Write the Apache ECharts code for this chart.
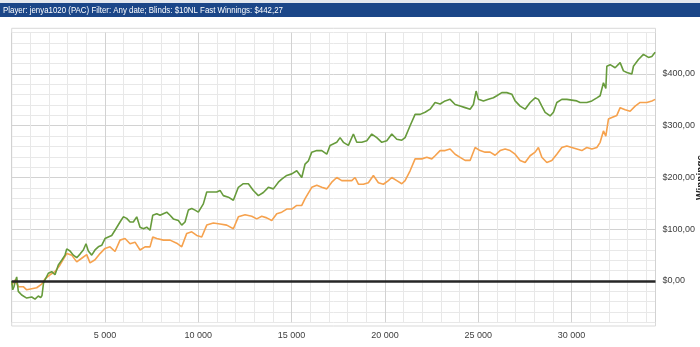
<!DOCTYPE html>
<html>
<head>
<meta charset="utf-8">
<script src="https://cdn.jsdelivr.net/npm/echarts@6/dist/echarts.min.js"></script>
<style>html,body{margin:0;padding:0;background:#fff}#c{width:700px;height:347px}</style>
</head>
<body>
<div id="c"></div>
<script>
const titleText = 'Player: jenya1020 (PAC) Filter: Any date; Blinds: $10NL Fast Winnings: $442,27';
const yAxisTitle = 'Winnings';

const greenHands = [0,54,123,177,268,354,536,804,1072,1249,1426,1554,1624,1704,1785,1962,2144,2321,2498,2680,2857,2948,3125,3302,3484,3661,3838,3982,4106,4288,4465,4642,4824,5001,5178,5360,5537,5805,5982,6164,6341,6518,6700,6877,7054,7236,7413,7558,7772,7949,8126,8308,8485,8662,8930,9112,9289,9466,9648,9825,10002,10093,10270,10452,10720,10988,11165,11342,11610,11878,12146,12414,12682,12950,13218,13486,13754,14022,14290,14472,14740,15008,15276,15544,15721,15898,16080,16348,16616,16884,17061,17420,17597,17774,18042,18310,18492,18760,19028,19296,19564,19832,20100,20368,20636,20904,21081,21349,21617,21885,22153,22421,22689,22957,23225,23493,23761,24029,24297,24565,24742,24887,25010,25278,25546,25814,25996,26264,26532,26800,26977,27245,27513,27781,28049,28226,28408,28585,28853,29030,29212,29480,29748,30284,30461,30820,31088,31356,31533,31710,31838,31892,32069,32337,32605,32782,32964,33232,33318,33586,33854,34122,34304,34481];
const greenWinnings = [0,-17,-11,-3,8,-20,-27,-33,-31,-35,-29,-32,-28,-4,2,15,18,12,31,40,50,62,58,50,45,52,60,72,58,50,60,66,69,82,85,88,98,114,124,121,114,114,124,104,101,104,98,127,130,127,130,133,127,120,117,108,114,137,140,137,133,130,149,172,172,172,175,165,162,156,181,188,188,175,165,171,181,178,191,197,204,207,213,200,226,232,249,252,252,245,262,268,277,268,262,284,268,268,271,284,277,268,271,284,274,272,277,300,322,322,326,332,345,342,348,351,341,338,335,332,341,367,351,348,351,354,358,364,364,361,348,338,332,345,354,351,338,326,319,326,345,351,351,348,345,345,348,354,358,383,372,415,418,412,422,406,403,400,415,428,438,432,434,442];

const orangeHands = [0,177,354,622,804,1072,1340,1608,1785,2053,2321,2589,2948,3216,3484,3752,4020,4197,4465,4733,5001,5269,5537,5805,6073,6341,6609,6877,7145,7413,7558,7772,8126,8485,8844,9112,9380,9648,9916,10184,10452,10806,11165,11524,11878,12146,12505,12864,13132,13400,13668,13936,14204,14472,14740,15008,15276,15544,15721,16080,16348,16616,16884,17152,17420,17688,17956,18224,18401,18578,18846,19114,19382,19650,19918,20186,20368,20636,20904,21081,21349,21617,21976,22244,22512,22689,22957,23225,23493,23761,24029,24297,24565,24833,25100,25369,25637,25905,26173,26441,26709,26977,27245,27513,27781,28049,28226,28408,28676,28944,29212,29480,29748,30016,30284,30552,30820,31088,31356,31533,31710,31838,31978,32160,32428,32605,32873,33141,33409,33677,34036,34304,34481];
const orangeWinnings = [-8,2,-11,-11,-17,-15,-13,-6,4,12,18,31,53,50,37,44,51,35,41,53,63,66,57,79,82,72,75,60,66,66,85,82,79,79,73,66,92,95,88,85,108,112,110,108,101,124,128,125,120,125,122,117,130,133,139,139,146,146,159,181,185,181,178,191,200,194,194,194,200,187,187,190,204,190,187,194,200,194,188,194,213,236,236,239,236,242,252,252,255,245,239,233,233,258,252,249,249,243,252,255,252,245,233,229,242,249,258,239,229,233,245,258,261,258,255,252,258,255,258,268,290,280,313,316,320,335,331,328,338,345,345,348,351];

const xTicks = {min: 0, max: 34500, step: 1000, labelEvery: 5000};
const yTicks = {min: -80, max: 480, step: 20, labelEvery: 100};

function pairs(xs, ys){ return xs.map((x,i)=>[x, ys[i]]); }
function fmtThousands(v){ return String(v).replace(/\B(?=(\d{3})+(?!\d))/g, ' '); }

const chart = echarts.init(document.getElementById('c'), null, {renderer:'canvas'});
const font = '"Liberation Sans", Arial, sans-serif';
const minor = '#e8e8e8', major = '#d2d2d2';

chart.setOption({
  animation: false,
  backgroundColor: '#fff',
  grid: {left: 11.7, right: 44.5, top: 32.6, bottom: 24.6, containLabel: false, outerBoundsMode: 'none'},
  graphic: [
    {type:'rect', shape:{x:0,y:0,width:700,height:3}, style:{fill:'#e3e7ee'}, silent:true},
    {type:'rect', shape:{x:0,y:3,width:700,height:14}, style:{fill:'#1b4688'}, silent:true},
    {type:'text', x:3, y:10, scaleX:0.83, style:{text:titleText, fill:'#ffffff', font:'9.5px ' + font, textVerticalAlign:'middle'}, silent:true},
    {type:'rect', shape:{x:11.7,y:28.3,width:643.8,height:297.7}, style:{fill:'none', stroke:'#d9d9d9', lineWidth:1}, silent:true, z:0}
  ],
  xAxis: {
    type: 'value', min: xTicks.min, max: xTicks.max, interval: xTicks.step,
    axisLine:{show:false}, axisTick:{show:false},
    axisLabel:{
      interval:0, margin:9, color:'#404040', fontSize:9, fontFamily:font,
      showMinLabel:true, showMaxLabel:true, hideOverlap:false,
      formatter: v => (v > 0 && v % xTicks.labelEvery === 0) ? fmtThousands(v) : ''
    },
    splitLine:{show:true, lineStyle:{color:[major, minor, minor, minor, minor], width:1}}
  },
  yAxis: {
    type: 'value', position:'right', min: yTicks.min, max: yTicks.max, interval: yTicks.step,
    axisLine:{show:false}, axisTick:{show:false},
    name: yAxisTitle, nameLocation:'middle', nameGap: 41, nameRotate: 90, nameMoveOverlap: false,
    nameTextStyle:{color:'#262626', fontSize:10, fontWeight:'bold', fontFamily:font},
    axisLabel:{
      interval:0, margin:7, color:'#404040', fontSize:9, fontFamily:font,
      formatter: v => (v >= 0 && v % yTicks.labelEvery === 0) ? '$' + v + ',00' : ''
    },
    splitLine:{show:true, lineStyle:{color:[minor, minor, minor, minor, major], width:1}}
  },
  series: [
    {
      name:'orange', type:'line', data: pairs(orangeHands, orangeWinnings),
      showSymbol:false, symbol:'none', lineStyle:{color:'#f6a24e', width:1.6}, z:2
    },
    {
      name:'green', type:'line', data: pairs(greenHands, greenWinnings),
      showSymbol:false, symbol:'none', lineStyle:{color:'#679b3c', width:1.6}, z:3,
      markLine:{silent:true, symbol:['none','none'], label:{show:false},
        lineStyle:{color:'#262626', width:2.5, type:'solid'}, data:[{yAxis:0}]}
    }
  ]
});
</script>
</body>
</html>
